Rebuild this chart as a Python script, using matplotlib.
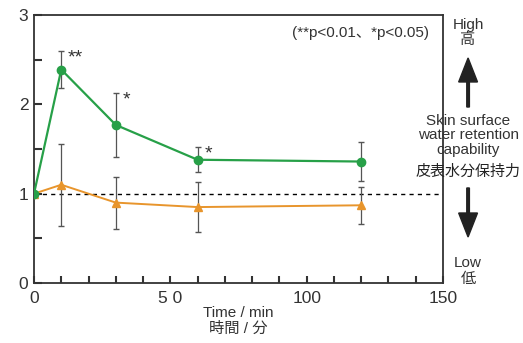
import matplotlib
matplotlib.use("Agg")
import matplotlib.pyplot as plt
import numpy as np

plt.rcParams["font.family"] = ["Liberation Sans", "Noto Sans CJK JP"]

# data
time_min = [0, 10, 30, 60, 120]
green_vals = [1.0, 2.39, 1.77, 1.38, 1.36]
green_err = [0.0, 0.21, 0.36, 0.14, 0.22]
orange_vals = [1.0, 1.10, 0.90, 0.85, 0.87]
orange_err = [0.0, 0.46, 0.29, 0.28, 0.21]
sig_marks = [(10, "**"), (30, "*"), (60, "*")]

GREEN = "#27a048"
ORANGE = "#e8952c"
SPINE = "#333333"

fig = plt.figure(figsize=(5.23, 3.43), dpi=100)
ax = fig.add_axes([0.065, 0.175, 0.782, 0.781])

ax.axhline(1.0, color="black", lw=1.0, ls=(0, (3, 3)), zorder=1)

ax.errorbar(time_min, orange_vals, yerr=orange_err, fmt="none",
            ecolor="#555555", elinewidth=0.9, capsize=2, zorder=2)
ax.errorbar(time_min, green_vals, yerr=green_err, fmt="none",
            ecolor="#555555", elinewidth=0.9, capsize=2, zorder=2)
ax.plot(time_min, orange_vals, color=ORANGE, lw=1.4, marker="^", ms=6, zorder=3)
ax.plot(time_min, green_vals, color=GREEN, lw=1.6, marker="o", ms=6, zorder=4)

for t, s in sig_marks:
    i = time_min.index(t)
    ax.text(t + 2.5, green_vals[i] + green_err[i] - 0.08, s, fontsize=14,
            color="#333333", ha="left", va="center")

ax.text(0.965, 0.935, "(**p<0.01、*p<0.05)", transform=ax.transAxes,
        ha="right", va="center", fontsize=11, color="#333333")

ax.set_xlim(0, 150)
ax.set_ylim(0, 3)
ax.set_xticks(np.arange(0, 151, 10), minor=True)
ax.set_xticks([0, 50, 100, 150])
ax.set_xticklabels(["0", "5 0", "100", "150"])
ax.set_yticks([0.5, 1.5, 2.5], minor=True)
ax.set_yticks([0, 1, 2, 3])
ax.tick_params(axis="both", which="both", direction="in", color=SPINE,
               width=1.5, labelsize=12.5, labelcolor="#333333")
ax.tick_params(axis="x", which="both", length=5, pad=6)
ax.tick_params(axis="y", which="both", length=6, pad=4)
for sp in ax.spines.values():
    sp.set_color(SPINE)
    sp.set_linewidth(1.3)

ax.set_xlabel("Time / min\n時間 / 分", fontsize=11, color="#333333",
              labelpad=0, linespacing=1.15)

# right-hand annotation
fx = 0.895
fig.text(fx, 0.905, "High\n高", ha="center", va="center", fontsize=11,
         color="#333333", linespacing=1.1)
fig.text(fx, 0.605, "Skin surface\nwater retention\ncapability",
         ha="center", va="center", fontsize=11, color="#333333", linespacing=1.05)
fig.text(fx, 0.50, "皮表水分保持力", ha="center", va="center",
         fontsize=10.8, color="#222222")
fig.text(fx, 0.21, "Low\n低", ha="center", va="center", fontsize=11,
         color="#333333", linespacing=1.1)
fig.patches.append(matplotlib.patches.FancyArrow(
    fx, 0.688, 0, 0.143, width=0.005, head_width=0.036, head_length=0.07,
    color="#222222", transform=fig.transFigure, length_includes_head=True))
fig.patches.append(matplotlib.patches.FancyArrow(
    fx, 0.452, 0, -0.143, width=0.005, head_width=0.036, head_length=0.07,
    color="#222222", transform=fig.transFigure, length_includes_head=True))

fig.savefig("out.png", dpi=100)
